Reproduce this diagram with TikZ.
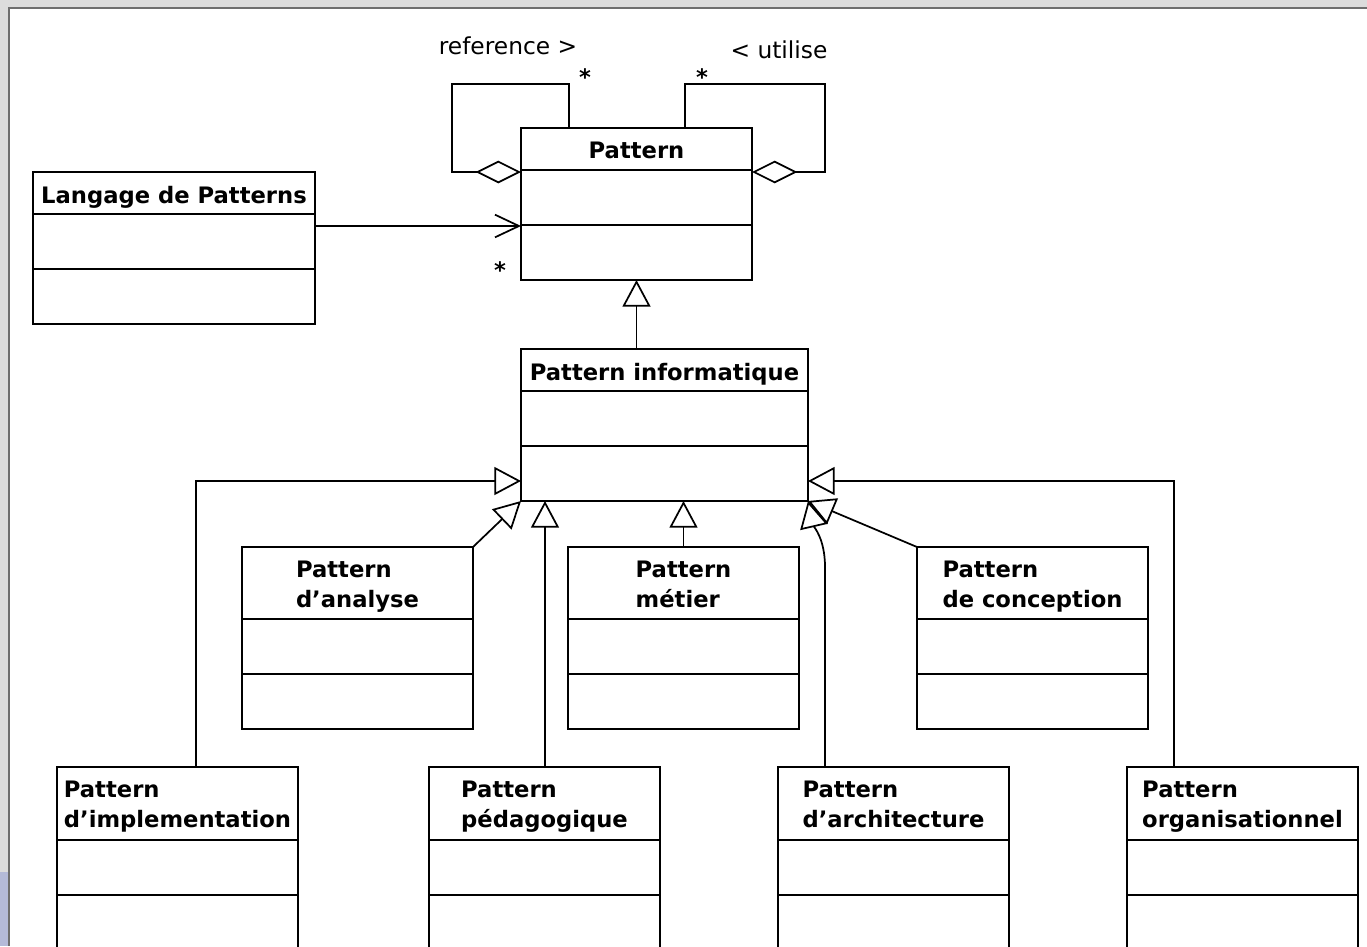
\documentclass[tikz,border=0pt]{standalone}
\usepackage{fontspec}
\setmainfont{DejaVu Sans}
\usetikzlibrary{arrows.meta,calc}

\definecolor{pagegray}{RGB}{220,220,220}
\definecolor{framegray}{RGB}{110,110,110}
\definecolor{panelblue}{RGB}{180,186,216}

\tikzset{
  classbox/.style={draw, inner sep=0pt, outer sep=0pt},
  classtitle/.style={inner sep=0pt, align=left, font=\fontsize{17}{22.5}\selectfont\bfseries},
  roletext/.style={inner sep=0pt, font=\fontsize{17.5}{20}\selectfont},
  multtext/.style={inner sep=0pt, font=\fontsize{17}{20}\selectfont\bfseries},
  gen/.style={-{Triangle[open,length=20pt,width=21pt]}},
  aggreg/.style={{Diamond[open,length=34pt,width=17pt]}-},
  assoc/.style={-{Straight Barb[length=18pt,width=17pt]}}
}

% class box: name, x, y, width, header height, title
\newcommand{\umlclass}[6]{%
  \node[classbox, minimum width=#4*0.75pt, minimum height={(#5+110)*0.75pt}, anchor=north west] (#1) at (#2,#3) {};
  \node[classtitle, anchor=north] (#1-name) at ($(#1.north)+(0,13)$) {#6};
  \draw ($(#1.north west)+(0,#5)$) -- ++(#4,0);
  \draw ($(#1.north west)+(0,#5+55)$) -- ++(#4,0);
}

\begin{document}
\begin{tikzpicture}[x=0.75pt, y=-0.75pt, line width=1.3pt]
  \useasboundingbox (0,0) rectangle (1367,946);
  \clip (0,0) rectangle (1367,946);
  % window
  \fill[pagegray] (0,0) rectangle (1367,946);
  \fill[panelblue] (0,872) rectangle (8,946);
  \fill[white] (10,9) rectangle (1367,946);
  \draw[framegray, line width=1.4pt] (9.2,946) -- (9.2,8.2) -- (1367,8.2);

  % classes
  \umlclass{pat}{521}{128}{231}{42}{Pattern}
  \umlclass{lang}{33}{172}{282}{42}{Langage de Patterns}
  \umlclass{info}{521}{349}{287}{42}{Pattern informatique}
  \umlclass{ana}{242}{547}{231}{72}{Pattern\\d’analyse}
  \umlclass{met}{568}{547}{231}{72}{Pattern\\métier}
  \umlclass{con}{917}{547}{231}{72}{Pattern\\de conception}
  \umlclass{impl}{57}{767}{241}{73}{Pattern\\d’implementation}
  \umlclass{peda}{429}{767}{231}{73}{Pattern\\pédagogique}
  \umlclass{arch}{778}{767}{231}{73}{Pattern\\d’architecture}
  \umlclass{org}{1127}{767}{231}{73}{Pattern\\organisationnel}

  % self associations
  \draw[aggreg] ($(pat.north west)+(0,44)$) -- ++(-69,0) |- ($(pat.north west)+(48,-44)$) -- ($(pat.north west)+(48,0)$);
  \draw[aggreg] ($(pat.north east)+(0,44)$) -- ++(73,0) |- ($(pat.north west)+(164,-44)$) -- ($(pat.north west)+(164,0)$);
  \node[roletext] (refname) at (508,46) {reference >};
  \node[roletext] (usename) at (779,50) {< utilise};
  \node[multtext] (refmult) at (585,77) {*};
  \node[multtext] (usemult) at (702,77) {*};

  % language of patterns
  \draw[assoc] ($(lang.north east)+(0,54)$) -- ($(pat.north west)+(0,98)$);
  \node[multtext] (langmult) at (500,270) {*};

  % generalizations
  \draw[gen] (info.north -| pat.south) -- (pat.south);
  \draw[gen] ($(impl.north west)+(139,0)$) |- ($(info.north west)+(0,132)$);
  \draw[gen] (ana.north east) -- (info.south west);
  \draw[gen] ($(peda.north west)+(116,0)$) -- ($(info.south west)+(24,0)$);
  \draw[gen] (met.north) -- (met.north |- info.south);
  \draw[gen] ($(arch.north west)+(47,0)$) -- ++(0,-200) .. controls +(0,-28) and +(6,26) .. (info.south east);
  \draw[gen] (con.north west) -- (info.south east);
  \draw[gen] ($(org.north west)+(47,0)$) |- ($(info.north east)+(0,132)$);
\end{tikzpicture}
\end{document}
